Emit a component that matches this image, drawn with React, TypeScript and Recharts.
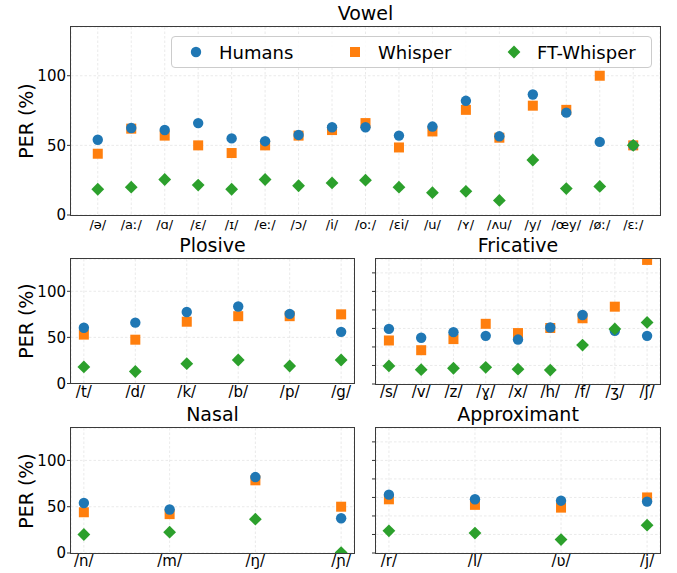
import { CartesianGrid, Legend, Scatter, ScatterChart, XAxis, YAxis } from 'recharts';

const vowelLabels = ['/ə/', '/aː/', '/ɑ/', '/ɛ/', '/ɪ/', '/eː/', '/ɔ/', '/i/', '/oː/', '/ɛi/', '/u/', '/ʏ/', '/ʌu/', '/y/', '/œy/', '/øː/', '/ɛː/'];
const vowelHumans = [54, 62.5, 61, 66, 55, 53, 57.5, 63, 63, 57, 63.5, 82, 56.5, 86.5, 73.5, 52.5, 50];
const vowelWhisper = [44, 62, 57, 50, 44.5, 50, 57, 61, 66, 48.5, 60, 75.5, 55.5, 78.5, 75.5, 100, 50];
const vowelFT = [18.5, 20, 25.5, 21.5, 18.5, 25.5, 21, 23, 25, 20, 16, 17, 10.5, 39.5, 19, 20.5, 50];

const plosiveLabels = ['/t/', '/d/', '/k/', '/b/', '/p/', '/g/'];
const plosiveHumans = [60.5, 66, 77.5, 83.5, 75.5, 56];
const plosiveWhisper = [53, 47.5, 67, 73, 73, 75];
const plosiveFT = [18, 13, 21.5, 25.5, 19, 25.5];

const fricativeLabels = ['/s/', '/v/', '/z/', '/ɣ/', '/x/', '/h/', '/f/', '/ʒ/', '/ʃ/'];
const fricativeHumans = [59.5, 50, 56, 52, 48, 61, 74.5, 57.5, 52];
const fricativeWhisper = [47, 36.5, 48.5, 65, 55, 60.5, 71, 83.5, 134];
const fricativeFT = [19.5, 15.5, 17, 18, 16, 15, 42, 59.5, 66.5];

const nasalLabels = ['/n/', '/m/', '/ŋ/', '/ɲ/'];
const nasalHumans = [54, 47, 82, 37.5];
const nasalWhisper = [44, 42, 78.5, 50];
const nasalFT = [20, 22.5, 36.5, 0.5];

const approxLabels = ['/r/', '/l/', '/ʋ/', '/j/'];
const approxHumans = [63, 58, 56.5, 55.5];
const approxWhisper = [58, 52, 49, 60];
const approxFT = [24, 21.5, 14.5, 30];

const leftTicks = [0, 50, 100];
const rightTicks = [0, 20, 40, 60, 80, 100, 120];
const legendOrder = ['Humans', 'Whisper', 'FT-Whisper'];

const COLORS = { humans: '#1f77b4', whisper: '#ff7f0e', ft: '#2ca02c' };
const FONT = '"DejaVu Sans", sans-serif';

const YAX_W = 40;
const M_TOP = 12;
const M_RIGHT = 12;
const XAX_H = 30;

type Kind = 'circle' | 'square' | 'diamond';
type Box = { left: number; top: number; width: number; height: number };

function Marker({ kind, cx, cy, color }: { kind: Kind; cx: number; cy: number; color: string }) {
  if (kind === 'circle') return <circle cx={cx} cy={cy} r={5.2} fill={color} />;
  if (kind === 'square') return <rect x={cx - 5} y={cy - 5} width={10} height={10} fill={color} />;
  const d = 6.4;
  return <polygon points={`${cx},${cy - d} ${cx + d},${cy} ${cx},${cy + d} ${cx - d},${cy}`} fill={color} />;
}

const kindOf: Record<string, Kind> = { Humans: 'circle', Whisper: 'square', 'FT-Whisper': 'diamond' };

function LegendBox({ payload }: any) {
  const items = [...(payload ?? [])].sort((a: any, b: any) => legendOrder.indexOf(a.value) - legendOrder.indexOf(b.value));
  return (
    <div
      style={{
        position: 'relative',
        width: 481,
        height: 32,
        border: '1px solid #cccccc',
        borderRadius: 4,
        background: 'rgba(255,255,255,0.85)',
        boxSizing: 'border-box',
        fontFamily: FONT,
      }}
    >
      {items.map((it: any, i: number) => (
        <div key={it.value} style={{ position: 'absolute', left: 14 + i * 159, top: 0, height: 30, display: 'flex', alignItems: 'center' }}>
          <svg width={20} height={20}>
            <Marker kind={kindOf[it.value]} cx={10} cy={10} color={it.color} />
          </svg>
          <span style={{ marginLeft: 13, fontSize: 18, color: '#000', whiteSpace: 'nowrap' }}>{it.value}</span>
        </div>
      ))}
    </div>
  );
}

function Panel({
  title,
  labels,
  humans,
  whisper,
  ft,
  box,
  yTicks,
  yLabels,
  tickFont,
  tickGap,
  legend,
}: {
  title: string;
  labels: string[];
  humans: number[];
  whisper: number[];
  ft: number[];
  box: Box;
  yTicks: number[];
  yLabels: boolean;
  tickFont: number;
  tickGap: number;
  legend?: boolean;
}) {
  const n = labels.length;
  const pad = (n - 1) * 0.05;
  const rows = (vals: number[]) => vals.map((v, i) => ({ x: i, y: v }));
  const w = YAX_W + box.width + M_RIGHT;
  const h = M_TOP + box.height + XAX_H;

  return (
    <>
      <div
        style={{
          position: 'absolute',
          left: box.left,
          width: box.width,
          top: box.top - 23.3,
          textAlign: 'center',
          fontSize: 19,
          lineHeight: '19px',
          color: '#000',
        }}
      >
        {title}
      </div>
      {yLabels && (
        <div
          style={{
            position: 'absolute',
            left: 25.5,
            top: box.top + box.height / 2,
            transform: 'translate(-50%, -50%) rotate(-90deg)',
            fontSize: 19,
            lineHeight: 1,
            whiteSpace: 'nowrap',
          }}
        >
          PER (%)
        </div>
      )}
      <div style={{ position: 'absolute', left: box.left - YAX_W, top: box.top - M_TOP }}>
        <ScatterChart width={w} height={h} margin={{ top: M_TOP, right: M_RIGHT, bottom: 0, left: 0 }}>
          <CartesianGrid stroke="#e4e4e4" strokeDasharray="2.5 2" strokeWidth={0.8} />
          <XAxis
            type="number"
            dataKey="x"
            domain={[-pad, n - 1 + pad]}
            ticks={labels.map((_, i) => i)}
            tickFormatter={(i: number) => labels[i] ?? ''}
            interval={0}
            allowDataOverflow
            axisLine={false}
            tickLine={false}
            tickSize={0}
            tickMargin={tickGap}
            height={XAX_H}
            tick={{ fontSize: tickFont, fill: '#000', fontFamily: FONT }}
          />
          <YAxis
            type="number"
            dataKey="y"
            domain={[0, 135]}
            ticks={yTicks}
            allowDataOverflow
            axisLine={false}
            tickLine={{ stroke: '#333' }}
            tickSize={4}
            tickMargin={1}
            width={YAX_W}
            tickFormatter={(v: number) => (yLabels ? String(v) : '')}
            tick={{ fontSize: 15, fill: '#000', fontFamily: FONT }}
          />
          <Scatter
            name="Whisper"
            data={rows(whisper)}
            fill={COLORS.whisper}
            isAnimationActive={false}
            shape={(p: any) => <Marker kind="square" cx={p.cx} cy={p.cy} color={COLORS.whisper} />}
          />
          <Scatter
            name="Humans"
            data={rows(humans)}
            fill={COLORS.humans}
            isAnimationActive={false}
            shape={(p: any) => <Marker kind="circle" cx={p.cx} cy={p.cy} color={COLORS.humans} />}
          />
          <Scatter
            name="FT-Whisper"
            data={rows(ft)}
            fill={COLORS.ft}
            isAnimationActive={false}
            shape={(p: any) => <Marker kind="diamond" cx={p.cx} cy={p.cy} color={COLORS.ft} />}
          />
          {legend && (
            <Legend
              layout="horizontal"
              verticalAlign="middle"
              align="center"
              content={(props: any) => <LegendBox payload={props.payload} />}
              wrapperStyle={{ position: 'absolute', left: 140, top: 21, width: 481, height: 32, bottom: 'auto', right: 'auto' }}
            />
          )}
        </ScatterChart>
      </div>
      <div
        style={{
          position: 'absolute',
          left: box.left - 0.8,
          top: box.top - 0.8,
          width: box.width + 1.6,
          height: box.height + 1.6,
          border: '1.6px solid #3a3a3a',
          boxSizing: 'border-box',
          pointerEvents: 'none',
        }}
      />
    </>
  );
}

export default function App() {
  return (
    <div style={{ position: 'absolute', left: 0, top: 0, width: 677, height: 573, background: '#fff', fontFamily: FONT, color: '#000' }}>
      <Panel
        title="Vowel"
        labels={vowelLabels}
        humans={vowelHumans}
        whisper={vowelWhisper}
        ft={vowelFT}
        box={{ left: 71, top: 27, width: 589, height: 188 }}
        yTicks={leftTicks}
        yLabels
        tickFont={13}
        tickGap={5}
        legend
      />
      <Panel
        title="Plosive"
        labels={plosiveLabels}
        humans={plosiveHumans}
        whisper={plosiveWhisper}
        ft={plosiveFT}
        box={{ left: 71, top: 259, width: 283, height: 124.5 }}
        yTicks={leftTicks}
        yLabels
        tickFont={15}
        tickGap={2.5}
      />
      <Panel
        title="Fricative"
        labels={fricativeLabels}
        humans={fricativeHumans}
        whisper={fricativeWhisper}
        ft={fricativeFT}
        box={{ left: 376, top: 259, width: 284, height: 125 }}
        yTicks={rightTicks}
        yLabels={false}
        tickFont={15}
        tickGap={2.5}
      />
      <Panel
        title="Nasal"
        labels={nasalLabels}
        humans={nasalHumans}
        whisper={nasalWhisper}
        ft={nasalFT}
        box={{ left: 71, top: 428, width: 283, height: 125 }}
        yTicks={leftTicks}
        yLabels
        tickFont={15}
        tickGap={2.5}
      />
      <Panel
        title="Approximant"
        labels={approxLabels}
        humans={approxHumans}
        whisper={approxWhisper}
        ft={approxFT}
        box={{ left: 376, top: 428, width: 284, height: 125 }}
        yTicks={rightTicks}
        yLabels={false}
        tickFont={15}
        tickGap={2.5}
      />
    </div>
  );
}
